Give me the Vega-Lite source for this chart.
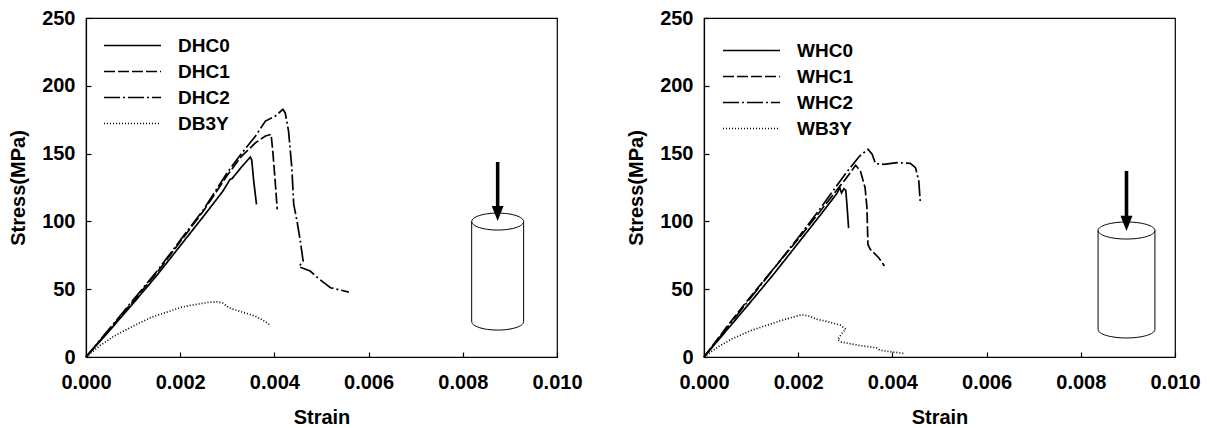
{
  "$schema": "https://vega.github.io/schema/vega-lite/v6.json",
  "background": "white",
  "padding": {"left": 8, "top": 7, "right": 5, "bottom": 0},
  "bounds": "flush",
  "spacing": 147,
  "config": {
    "view": {"stroke": "black", "strokeWidth": 1.2},
    "font": "Liberation Sans",
    "axis": {
      "grid": false, "domainColor": "black", "domainWidth": 1.2,
      "tickColor": "black", "tickSize": -5, "tickWidth": 1.2,
      "labelFont": "Liberation Sans", "labelFontSize": 20, "labelFontWeight": "bold", "labelColor": "black",
      "titleFont": "Liberation Sans", "titleFontSize": 20, "titleFontWeight": "bold", "titleColor": "black",
      "labelFlush": false, "labelOverlap": false
    },
    "axisX": {"labelPadding": 20, "titlePadding": 15},
    "axisY": {"labelPadding": 16, "titlePadding": 13}
  },
  "datasets": {
    "curves": [
      {"panel":"D","series":"DHC0","i":0,"strain":0,"stress":0},
      {"panel":"D","series":"DHC0","i":1,"strain":0.0005,"stress":19.5},
      {"panel":"D","series":"DHC0","i":2,"strain":0.001,"stress":39.5},
      {"panel":"D","series":"DHC0","i":3,"strain":0.0015,"stress":60},
      {"panel":"D","series":"DHC0","i":4,"strain":0.002,"stress":82},
      {"panel":"D","series":"DHC0","i":5,"strain":0.0025,"stress":104},
      {"panel":"D","series":"DHC0","i":6,"strain":0.0029,"stress":122},
      {"panel":"D","series":"DHC0","i":7,"strain":0.00306,"stress":131},
      {"panel":"D","series":"DHC0","i":8,"strain":0.0031,"stress":131.5},
      {"panel":"D","series":"DHC0","i":9,"strain":0.0033,"stress":140},
      {"panel":"D","series":"DHC0","i":10,"strain":0.00349,"stress":147.5},
      {"panel":"D","series":"DHC0","i":11,"strain":0.00352,"stress":145},
      {"panel":"D","series":"DHC0","i":12,"strain":0.00356,"stress":130},
      {"panel":"D","series":"DHC0","i":13,"strain":0.00362,"stress":112.6},

      {"panel":"D","series":"DHC1","i":0,"strain":0,"stress":0},
      {"panel":"D","series":"DHC1","i":1,"strain":0.0005,"stress":20.5},
      {"panel":"D","series":"DHC1","i":2,"strain":0.001,"stress":41},
      {"panel":"D","series":"DHC1","i":3,"strain":0.0015,"stress":62},
      {"panel":"D","series":"DHC1","i":4,"strain":0.002,"stress":85},
      {"panel":"D","series":"DHC1","i":5,"strain":0.0025,"stress":108},
      {"panel":"D","series":"DHC1","i":6,"strain":0.003,"stress":134},
      {"panel":"D","series":"DHC1","i":7,"strain":0.0033,"stress":148},
      {"panel":"D","series":"DHC1","i":8,"strain":0.0036,"stress":158},
      {"panel":"D","series":"DHC1","i":9,"strain":0.00381,"stress":163},
      {"panel":"D","series":"DHC1","i":10,"strain":0.00393,"stress":164.2},
      {"panel":"D","series":"DHC1","i":11,"strain":0.00397,"stress":150},
      {"panel":"D","series":"DHC1","i":12,"strain":0.00402,"stress":128},
      {"panel":"D","series":"DHC1","i":13,"strain":0.00406,"stress":108.9},

      {"panel":"D","series":"DHC2","i":0,"strain":0,"stress":0},
      {"panel":"D","series":"DHC2","i":1,"strain":0.0005,"stress":21},
      {"panel":"D","series":"DHC2","i":2,"strain":0.001,"stress":42},
      {"panel":"D","series":"DHC2","i":3,"strain":0.0015,"stress":63},
      {"panel":"D","series":"DHC2","i":4,"strain":0.002,"stress":86},
      {"panel":"D","series":"DHC2","i":5,"strain":0.0025,"stress":109},
      {"panel":"D","series":"DHC2","i":6,"strain":0.003,"stress":136},
      {"panel":"D","series":"DHC2","i":7,"strain":0.0033,"stress":150},
      {"panel":"D","series":"DHC2","i":8,"strain":0.0036,"stress":163},
      {"panel":"D","series":"DHC2","i":9,"strain":0.00381,"stress":174},
      {"panel":"D","series":"DHC2","i":10,"strain":0.00402,"stress":177.7},
      {"panel":"D","series":"DHC2","i":11,"strain":0.00418,"stress":182.6},
      {"panel":"D","series":"DHC2","i":12,"strain":0.00423,"stress":180},
      {"panel":"D","series":"DHC2","i":13,"strain":0.0043,"stress":166.7},
      {"panel":"D","series":"DHC2","i":14,"strain":0.00437,"stress":139.6},
      {"panel":"D","series":"DHC2","i":15,"strain":0.00441,"stress":112.6},
      {"panel":"D","series":"DHC2","i":16,"strain":0.00448,"stress":100.3},
      {"panel":"D","series":"DHC2","i":17,"strain":0.00455,"stress":85.5},
      {"panel":"D","series":"DHC2","i":18,"strain":0.00461,"stress":70.8},
      {"panel":"D","series":"DHC2","i":19,"strain":0.00452,"stress":66.6},
      {"panel":"D","series":"DHC2","i":20,"strain":0.00476,"stress":63.4},
      {"panel":"D","series":"DHC2","i":21,"strain":0.0049,"stress":59},
      {"panel":"D","series":"DHC2","i":22,"strain":0.00505,"stress":54.8},
      {"panel":"D","series":"DHC2","i":23,"strain":0.00519,"stress":51.1},
      {"panel":"D","series":"DHC2","i":24,"strain":0.00558,"stress":47.9},

      {"panel":"D","series":"DB3Y","i":0,"strain":0,"stress":0},
      {"panel":"D","series":"DB3Y","i":1,"strain":0.0003,"stress":8.5},
      {"panel":"D","series":"DB3Y","i":2,"strain":0.0006,"stress":15.5},
      {"panel":"D","series":"DB3Y","i":3,"strain":0.001,"stress":22.8},
      {"panel":"D","series":"DB3Y","i":4,"strain":0.0014,"stress":29.5},
      {"panel":"D","series":"DB3Y","i":5,"strain":0.0018,"stress":34},
      {"panel":"D","series":"DB3Y","i":6,"strain":0.002,"stress":36.5},
      {"panel":"D","series":"DB3Y","i":7,"strain":0.0022,"stress":38},
      {"panel":"D","series":"DB3Y","i":8,"strain":0.0026,"stress":40.3},
      {"panel":"D","series":"DB3Y","i":9,"strain":0.00278,"stress":40.7},
      {"panel":"D","series":"DB3Y","i":10,"strain":0.0029,"stress":39.8},
      {"panel":"D","series":"DB3Y","i":11,"strain":0.003,"stress":37.3},
      {"panel":"D","series":"DB3Y","i":12,"strain":0.0031,"stress":35.4},
      {"panel":"D","series":"DB3Y","i":13,"strain":0.0034,"stress":32.3},
      {"panel":"D","series":"DB3Y","i":14,"strain":0.0036,"stress":30},
      {"panel":"D","series":"DB3Y","i":15,"strain":0.0038,"stress":26.3},
      {"panel":"D","series":"DB3Y","i":16,"strain":0.00389,"stress":24},

      {"panel":"W","series":"WHC0","i":0,"strain":0,"stress":0},
      {"panel":"W","series":"WHC0","i":1,"strain":0.0005,"stress":20.5},
      {"panel":"W","series":"WHC0","i":2,"strain":0.001,"stress":41},
      {"panel":"W","series":"WHC0","i":3,"strain":0.0015,"stress":62},
      {"panel":"W","series":"WHC0","i":4,"strain":0.002,"stress":84},
      {"panel":"W","series":"WHC0","i":5,"strain":0.0025,"stress":106},
      {"panel":"W","series":"WHC0","i":6,"strain":0.00283,"stress":121},
      {"panel":"W","series":"WHC0","i":7,"strain":0.00288,"stress":125},
      {"panel":"W","series":"WHC0","i":8,"strain":0.00292,"stress":121},
      {"panel":"W","series":"WHC0","i":9,"strain":0.00297,"stress":124},
      {"panel":"W","series":"WHC0","i":10,"strain":0.00301,"stress":123},
      {"panel":"W","series":"WHC0","i":11,"strain":0.00304,"stress":110},
      {"panel":"W","series":"WHC0","i":12,"strain":0.00307,"stress":95},

      {"panel":"W","series":"WHC1","i":0,"strain":0,"stress":0},
      {"panel":"W","series":"WHC1","i":1,"strain":0.0005,"stress":23},
      {"panel":"W","series":"WHC1","i":2,"strain":0.001,"stress":45},
      {"panel":"W","series":"WHC1","i":3,"strain":0.0015,"stress":66},
      {"panel":"W","series":"WHC1","i":4,"strain":0.002,"stress":87},
      {"panel":"W","series":"WHC1","i":5,"strain":0.0025,"stress":109},
      {"panel":"W","series":"WHC1","i":6,"strain":0.003,"stress":131},
      {"panel":"W","series":"WHC1","i":7,"strain":0.00322,"stress":141.4},
      {"panel":"W","series":"WHC1","i":8,"strain":0.00332,"stress":137.2},
      {"panel":"W","series":"WHC1","i":9,"strain":0.00342,"stress":124.9},
      {"panel":"W","series":"WHC1","i":10,"strain":0.00346,"stress":110},
      {"panel":"W","series":"WHC1","i":11,"strain":0.00348,"stress":83},
      {"panel":"W","series":"WHC1","i":12,"strain":0.00353,"stress":79.4},
      {"panel":"W","series":"WHC1","i":13,"strain":0.00371,"stress":73.2},
      {"panel":"W","series":"WHC1","i":14,"strain":0.00383,"stress":67.1},

      {"panel":"W","series":"WHC2","i":0,"strain":0,"stress":0},
      {"panel":"W","series":"WHC2","i":1,"strain":0.0005,"stress":22},
      {"panel":"W","series":"WHC2","i":2,"strain":0.001,"stress":44},
      {"panel":"W","series":"WHC2","i":3,"strain":0.0015,"stress":66},
      {"panel":"W","series":"WHC2","i":4,"strain":0.002,"stress":88},
      {"panel":"W","series":"WHC2","i":5,"strain":0.0025,"stress":111},
      {"panel":"W","series":"WHC2","i":6,"strain":0.003,"stress":135},
      {"panel":"W","series":"WHC2","i":7,"strain":0.0033,"stress":148},
      {"panel":"W","series":"WHC2","i":8,"strain":0.00348,"stress":153.2},
      {"panel":"W","series":"WHC2","i":9,"strain":0.00357,"stress":149.5},
      {"panel":"W","series":"WHC2","i":10,"strain":0.00364,"stress":142.6},
      {"panel":"W","series":"WHC2","i":11,"strain":0.00382,"stress":142.1},
      {"panel":"W","series":"WHC2","i":12,"strain":0.0041,"stress":143.3},
      {"panel":"W","series":"WHC2","i":13,"strain":0.00438,"stress":142.8},
      {"panel":"W","series":"WHC2","i":14,"strain":0.00449,"stress":139.6},
      {"panel":"W","series":"WHC2","i":15,"strain":0.00456,"stress":129.8},
      {"panel":"W","series":"WHC2","i":16,"strain":0.00459,"stress":115},

      {"panel":"W","series":"WB3Y","i":0,"strain":0,"stress":0},
      {"panel":"W","series":"WB3Y","i":1,"strain":0.0003,"stress":7.5},
      {"panel":"W","series":"WB3Y","i":2,"strain":0.0006,"stress":13.5},
      {"panel":"W","series":"WB3Y","i":3,"strain":0.001,"stress":19.5},
      {"panel":"W","series":"WB3Y","i":4,"strain":0.0013,"stress":23},
      {"panel":"W","series":"WB3Y","i":5,"strain":0.0016,"stress":26.5},
      {"panel":"W","series":"WB3Y","i":6,"strain":0.0019,"stress":29.5},
      {"panel":"W","series":"WB3Y","i":7,"strain":0.00208,"stress":31.2},
      {"panel":"W","series":"WB3Y","i":8,"strain":0.00225,"stress":30},
      {"panel":"W","series":"WB3Y","i":9,"strain":0.0024,"stress":27.8},
      {"panel":"W","series":"WB3Y","i":10,"strain":0.0026,"stress":26.3},
      {"panel":"W","series":"WB3Y","i":11,"strain":0.00289,"stress":23.5},
      {"panel":"W","series":"WB3Y","i":12,"strain":0.00301,"stress":20.5},
      {"panel":"W","series":"WB3Y","i":13,"strain":0.00293,"stress":17.5},
      {"panel":"W","series":"WB3Y","i":14,"strain":0.00284,"stress":13},
      {"panel":"W","series":"WB3Y","i":15,"strain":0.00292,"stress":11},
      {"panel":"W","series":"WB3Y","i":16,"strain":0.0033,"stress":8.5},
      {"panel":"W","series":"WB3Y","i":17,"strain":0.00366,"stress":6.8},
      {"panel":"W","series":"WB3Y","i":18,"strain":0.00374,"stress":4.9},
      {"panel":"W","series":"WB3Y","i":19,"strain":0.0039,"stress":4.2},
      {"panel":"W","series":"WB3Y","i":20,"strain":0.00427,"stress":2.5}
    ],
    "icons": [
      {"panel":"D","part":"body","strain":0.00874,"stress":63},
      {"panel":"D","part":"arrow","strain":0.00874,"stress":122},
      {"panel":"W","part":"body","strain":0.00897,"stress":56.8},
      {"panel":"W","part":"arrow","strain":0.00897,"stress":115}
    ]
  },
  "hconcat": [
    {
      "width": 471, "height": 339,
      "layer": [
        {
          "data": {"name": "curves"},
          "transform": [{"filter": "datum.panel === 'D'"}],
          "mark": {"type": "line", "color": "black", "strokeWidth": 1.7},
          "encoding": {
            "x": {"field": "strain", "type": "quantitative", "scale": {"domain": [0, 0.01], "nice": false}, "axis": {"values": [0, 0.002, 0.004, 0.006, 0.008, 0.01], "format": ".3f", "title": "Strain"}},
            "y": {"field": "stress", "type": "quantitative", "scale": {"domain": [0, 250], "nice": false}, "axis": {"values": [0, 50, 100, 150, 200, 250], "format": "d", "title": "Stress(MPa)"}},
            "strokeDash": {
              "field": "series", "type": "nominal",
              "scale": {"domain": ["DHC0", "DHC1", "DHC2", "DB3Y"], "range": [[1, 0], [11, 3], [16, 3, 2, 3], [1, 2]]},
              "legend": {"orient": "none", "legendX": 17, "legendY": 17, "title": null, "padding": 0,
                "symbolType": "M-3,0L3,0", "symbolSize": 361, "symbolStrokeWidth": 1.3, "symbolStrokeColor": "black", "symbolFillColor": "transparent",
                "symbolOffset": 19, "labelOffset": 35, "rowPadding": 5,
                "labelFont": "Liberation Sans", "labelFontSize": 19, "labelFontWeight": "bold", "labelColor": "black"}
            },
            "order": {"field": "i", "type": "quantitative"}
          }
        },
        {
          "data": {"name": "icons"},
          "transform": [{"filter": "datum.panel === 'D' && datum.part === 'body'"}],
          "mark": {"type": "point", "shape": "M-0.444 -0.855A0.444 0.145 0 1 0 0.444 -0.855A0.444 0.145 0 1 0 -0.444 -0.855M-0.444 -0.855L-0.444 0.855A0.444 0.145 0 0 0 0.444 0.855L0.444 -0.855", "size": 13689, "filled": false, "stroke": "black", "strokeWidth": 1, "opacity": 1},
          "encoding": {"x": {"field": "strain", "type": "quantitative"}, "y": {"field": "stress", "type": "quantitative"}}
        },
        {
          "data": {"name": "icons"},
          "transform": [{"filter": "datum.panel === 'D' && datum.part === 'arrow'"}],
          "mark": {"type": "point", "shape": "M-0.06 -1L0.06 -1L0.06 0.49L0.2 0.49L0 1L-0.2 0.49L-0.06 0.49Z", "size": 3481, "filled": true, "color": "black", "opacity": 1},
          "encoding": {"x": {"field": "strain", "type": "quantitative"}, "y": {"field": "stress", "type": "quantitative"}}
        }
      ]
    },
    {
      "width": 471, "height": 339,
      "layer": [
        {
          "data": {"name": "curves"},
          "transform": [{"filter": "datum.panel === 'W'"}],
          "mark": {"type": "line", "color": "black", "strokeWidth": 1.7},
          "encoding": {
            "x": {"field": "strain", "type": "quantitative", "scale": {"domain": [0, 0.01], "nice": false}, "axis": {"values": [0, 0.002, 0.004, 0.006, 0.008, 0.01], "format": ".3f", "title": "Strain"}},
            "y": {"field": "stress", "type": "quantitative", "scale": {"domain": [0, 250], "nice": false}, "axis": {"values": [0, 50, 100, 150, 200, 250], "format": "d", "title": "Stress(MPa)"}},
            "strokeDash": {
              "field": "series", "type": "nominal",
              "scale": {"domain": ["WHC0", "WHC1", "WHC2", "WB3Y"], "range": [[1, 0], [11, 3], [16, 3, 2, 3], [1, 2]]},
              "legend": {"orient": "none", "legendX": 18, "legendY": 22, "title": null, "padding": 0,
                "symbolType": "M-3,0L3,0", "symbolSize": 361, "symbolStrokeWidth": 1.3, "symbolStrokeColor": "black", "symbolFillColor": "transparent",
                "symbolOffset": 19, "labelOffset": 35, "rowPadding": 5,
                "labelFont": "Liberation Sans", "labelFontSize": 19, "labelFontWeight": "bold", "labelColor": "black"}
            },
            "order": {"field": "i", "type": "quantitative"}
          }
        },
        {
          "data": {"name": "icons"},
          "transform": [{"filter": "datum.panel === 'W' && datum.part === 'body'"}],
          "mark": {"type": "point", "shape": "M-0.49 -0.853A0.49 0.147 0 1 0 0.49 -0.853A0.49 0.147 0 1 0 -0.49 -0.853M-0.49 -0.853L-0.49 0.853A0.49 0.147 0 0 0 0.49 0.853L0.49 -0.853", "size": 13456, "filled": false, "stroke": "black", "strokeWidth": 1, "opacity": 1},
          "encoding": {"x": {"field": "strain", "type": "quantitative"}, "y": {"field": "stress", "type": "quantitative"}}
        },
        {
          "data": {"name": "icons"},
          "transform": [{"filter": "datum.panel === 'W' && datum.part === 'arrow'"}],
          "mark": {"type": "point", "shape": "M-0.06 -1L0.06 -1L0.06 0.49L0.2 0.49L0 1L-0.2 0.49L-0.06 0.49Z", "size": 3600, "filled": true, "color": "black", "opacity": 1},
          "encoding": {"x": {"field": "strain", "type": "quantitative"}, "y": {"field": "stress", "type": "quantitative"}}
        }
      ]
    }
  ],
  "resolve": {"scale": {"strokeDash": "independent"}, "legend": {"strokeDash": "independent"}}
}
